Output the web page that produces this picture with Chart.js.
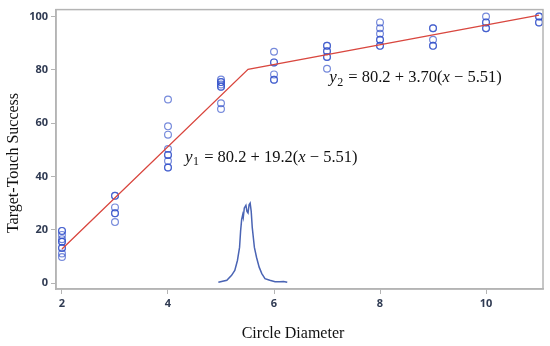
<!DOCTYPE html>
<html><head><meta charset="utf-8">
<script src="https://cdn.jsdelivr.net/npm/chart.js@4/dist/chart.umd.min.js"></script>
<style>html,body{margin:0;padding:0;background:#fff}#wrap{width:550px;height:346px}</style>
</head><body><div id="wrap"><canvas id="c" width="550" height="346"></canvas></div>
<script>
// Observed target-touch success by circle diameter
const diameters = [2, 3, 4, 5, 6, 7, 8, 9, 10, 11];
const success2  = [19.6, 19.6, 18.1, 16.5, 15.5, 15.5, 13.2, 13.2, 11.1, 9.8];
const success3  = [32.8, 32.8, 28.4, 26.2, 26.2, 22.9];
const success4  = [68.9, 58.8, 55.7, 50.3, 48.1, 48.1, 45.8, 43.4, 43.4];
const success5  = [76.4, 75.4, 75.4, 74.5, 73.7, 73.7, 67.5, 65.3];
const success6  = [86.8, 82.8, 82.8, 78.3, 76.3, 76.3];
const success7  = [89.0, 89.0, 87.0, 87.0, 84.8, 84.8, 80.4];
const success8  = [97.8, 95.6, 93.5, 91.3, 91.3, 89.0, 89.0];
const success9  = [95.6, 95.6, 91.3, 89.0, 89.0];
const success10 = [100, 97.8, 97.8, 95.6, 95.6];
const success11 = [100, 100, 97.8, 97.8];
const successGroups = [success2, success3, success4, success5, success6, success7, success8, success9, success10, success11];

// Piecewise fit (break point 5.51)
const fitX = [2, 5.51, 11];
const fitY = [12.8, 80.2, 100.5];

// Density curve of the break point estimate
const densityX = [4.95, 5.11, 5.20, 5.26, 5.31, 5.35, 5.37, 5.39, 5.41, 5.42, 5.44, 5.47, 5.49, 5.51, 5.53, 5.55, 5.57, 5.59, 5.63, 5.67, 5.72, 5.77, 5.83, 5.92, 6.02, 6.11, 6.18, 6.25];
const densityY = [0.3, 1.1, 2.9, 4.8, 8.5, 13.4, 19.6, 23.9, 25.7, 24.7, 28.2, 29.2, 26.9, 26.3, 29.4, 30.0, 26.9, 20.8, 13.4, 9.7, 6.0, 3.6, 1.7, 1.1, 0.5, 0.5, 0.6, 0.3];

const xTicks = [2, 4, 6, 8, 10];
const yTicks = [0, 20, 40, 60, 80, 100];

const scatterPts = [];
diameters.forEach((d, i) => successGroups[i].forEach(v => scatterPts.push({x: d, y: v})));
const fitPts = fitX.map((x, i) => ({x, y: fitY[i]}));
const densPts = densityX.map((x, i) => ({x, y: densityY[i]}));

function drawEq(ctx, x, y, sub, rest) {
  ctx.save();
  ctx.fillStyle = '#111';
  ctx.textBaseline = 'middle';
  ctx.textAlign = 'left';
  ctx.font = 'italic 17px "Liberation Serif"';
  ctx.fillText('y', x, y); x += ctx.measureText('y').width + 0.5;
  ctx.font = '12px "Liberation Serif"';
  ctx.fillText(sub, x, y + 5); x += ctx.measureText(sub).width + 1;
  rest.forEach(p => {
    ctx.font = (p.i ? 'italic ' : '') + '16.5px "Liberation Serif"';
    ctx.fillText(p.t, x, y); x += ctx.measureText(p.t).width;
  });
  ctx.restore();
}

const overlay = {
  id: 'overlay',
  afterDraw(chart) {
    const ctx = chart.ctx, a = chart.chartArea, sx = chart.scales.x, sy = chart.scales.y;
    ctx.save();
    ctx.strokeStyle = '#b4b4b4';
    ctx.lineWidth = 1.5;
    ctx.strokeRect(a.left, a.top, a.right - a.left, a.bottom - a.top);
    ctx.fillStyle = '#111';
    ctx.font = '16px "Liberation Serif"';
    ctx.textAlign = 'center'; ctx.textBaseline = 'middle';
    ctx.fillText('Circle Diameter', 293, 334);
    ctx.translate(14, 163); ctx.rotate(-Math.PI / 2);
    ctx.fillText('Target-Touch Success', 0, 0);
    ctx.restore();
    drawEq(ctx, sx.getPixelForValue(4.32), sy.getPixelForValue(47.2), '1',
      [{t: ' = 80.2 + 19.2('}, {t: 'x', i: true}, {t: ' \u2212 5.51)'}]);
    drawEq(ctx, sx.getPixelForValue(7.04), sy.getPixelForValue(77.1), '2',
      [{t: ' = 80.2 + 3.70('}, {t: 'x', i: true}, {t: ' \u2212 5.51)'}]);
  }
};

const tickFont = {family: '"Open Sans"', size: 11, weight: 'bold'};
new Chart(document.getElementById('c'), {
  type: 'scatter',
  data: {
    datasets: [
      {type: 'line', data: fitPts, borderColor: '#d9473f', borderWidth: 1.3, pointRadius: 0, fill: false, order: 0},
      {type: 'line', data: densPts, borderColor: '#4a64b4', borderWidth: 1.5, pointRadius: 0, fill: false, tension: 0, order: 1},
      {data: scatterPts, pointStyle: 'circle', pointRadius: 3.4, pointBorderWidth: 1.2,
       borderColor: 'rgba(45,75,200,0.65)', backgroundColor: 'rgba(0,0,0,0)', order: 2}
    ]
  },
  options: {
    responsive: false, animation: false, devicePixelRatio: 1,
    layout: {padding: {left: 0, right: 7, top: 5, bottom: 0}},
    plugins: {legend: {display: false}, tooltip: {enabled: false}},
    scales: {
      x: {type: 'linear', min: 1.887, max: 11.075,
        afterBuildTicks: s => { s.ticks = xTicks.map(v => ({value: v})); },
        afterFit: s => { s.height = 57; },
        border: {display: true, color: '#b4b4b4', width: 1.5},
        grid: {drawOnChartArea: false, drawTicks: true, tickLength: 5, color: '#b4b4b4'},
        ticks: {font: tickFont, color: '#2f3a52', padding: 3, maxRotation: 0}
      },
      y: {type: 'linear', min: -2.2, max: 102.6,
        afterBuildTicks: s => { s.ticks = yTicks.map(v => ({value: v})); },
        afterFit: s => { s.width = 56; },
        border: {display: true, color: '#b4b4b4', width: 1.5},
        grid: {drawOnChartArea: false, drawTicks: true, tickLength: 5, color: '#b4b4b4'},
        ticks: {font: tickFont, color: '#2f3a52', padding: 3}
      }
    }
  },
  plugins: [overlay]
});
</script></body></html>
